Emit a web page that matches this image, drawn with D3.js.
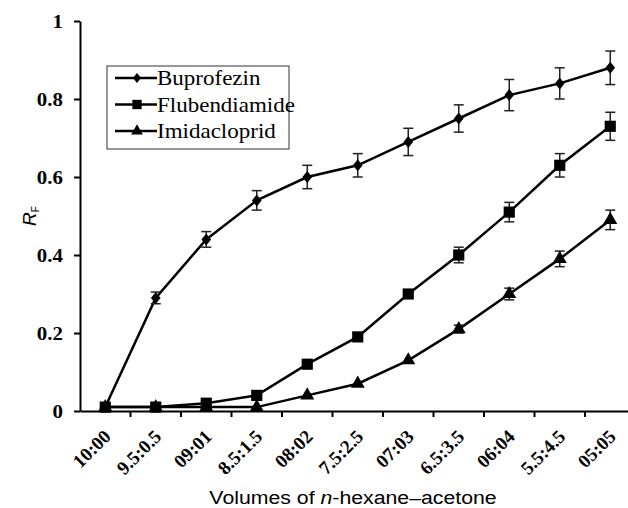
<!DOCTYPE html>
<html lang="en">
<head>
  <meta charset="UTF-8">
  <title>RF chart</title>
  <script src="https://cdn.jsdelivr.net/npm/d3@7"></script>
  <style>
    body { margin: 0; background: #fff; }
    svg { display: block; }
  </style>
</head>
<body>
<div id="chart"></div>
<script>
const categories = ["10:00", "9.5:0.5", "09:01", "8.5:1.5", "08:02", "7.5:2.5", "07:03", "6.5:3.5", "06:04", "5.5:4.5", "05:05"];
const buprofezin = [0.01, 0.29, 0.44, 0.54, 0.60, 0.63, 0.69, 0.75, 0.81, 0.84, 0.88];
const buprofezinErr = [0.005, 0.015, 0.02, 0.025, 0.03, 0.03, 0.035, 0.035, 0.04, 0.04, 0.043];
const flubendiamide = [0.01, 0.01, 0.02, 0.04, 0.12, 0.19, 0.30, 0.40, 0.51, 0.63, 0.73];
const flubendiamideErr = [0, 0, 0, 0, 0, 0, 0.005, 0.02, 0.025, 0.03, 0.036];
const imidacloprid = [0.01, 0.01, 0.01, 0.01, 0.04, 0.07, 0.13, 0.21, 0.30, 0.39, 0.49];
const imidaclopridErr = [0, 0, 0, 0, 0, 0, 0, 0.01, 0.015, 0.02, 0.025];
const yTicks = [0, 0.2, 0.4, 0.6, 0.8, 1];

// fat diamond marker (wider than d3.symbolDiamond)
const fatDiamond = {
  draw (ctx, size) {
    const h = Math.sqrt(size / 1.6), w = h * 0.8;
    ctx.moveTo(0, -h); ctx.lineTo(w, 0); ctx.lineTo(0, h); ctx.lineTo(-w, 0); ctx.closePath();
  }
};

const series = [
  { name: "Buprofezin", values: buprofezin, err: buprofezinErr, symbol: fatDiamond, size: 58 },
  { name: "Flubendiamide", values: flubendiamide, err: flubendiamideErr, symbol: d3.symbolSquare, size: 125 },
  { name: "Imidacloprid", values: imidacloprid, err: imidaclopridErr, symbol: d3.symbolTriangle, size: 85 }
];

const width = 628, height = 508;
const margin = { left: 80, top: 21, bottom: 97 };
const serif = "'Liberation Serif', 'Times New Roman', serif";
const sans = "'Liberation Sans', Arial, sans-serif";

const svg = d3.select("#chart").append("svg")
  .attr("width", width)
  .attr("height", height);

const x = d3.scaleBand()
  .domain(categories)
  .range([margin.left, margin.left + categories.length * 50.5]);

const y = d3.scaleLinear()
  .domain([0, 1])
  .range([height - margin.bottom, margin.top]);

// y axis
const yAxisG = svg.append("g")
  .attr("transform", `translate(${margin.left},0)`)
  .call(d3.axisLeft(y).tickValues(yTicks).tickSize(6).tickSizeOuter(0)
    .tickFormat(d => d === 0 ? "0" : d === 1 ? "1" : d3.format(".1f")(d)));
yAxisG.select(".domain").attr("stroke-width", 2);
yAxisG.selectAll(".tick line").attr("stroke-width", 2);
yAxisG.selectAll(".tick text")
  .attr("x", 0)
  .attr("transform", "translate(-17,0) scale(1.1,1)")
  .style("font-family", serif)
  .style("font-weight", "bold")
  .style("font-size", "19px")
  .attr("fill", "#000");

// x axis
const xAxisG = svg.append("g")
  .attr("transform", `translate(0,${y(0)})`)
  .call(d3.axisBottom(x).tickSize(0).tickFormat(""));
xAxisG.select(".domain").attr("stroke-width", 2);
xAxisG.selectAll(".tick").remove();

// boundary ticks between categories
const bounds = categories.map(c => x(c)).concat([x.range()[1]]);
xAxisG.selectAll("line.bt")
  .data(bounds.slice(1))
  .enter().append("line")
  .attr("class", "bt")
  .attr("x1", d => d).attr("x2", d => d)
  .attr("y1", 0).attr("y2", 6)
  .attr("stroke", "#000")
  .attr("stroke-width", 2);

const cx = d => x(d) + x.bandwidth() / 2;

svg.append("g").selectAll("text")
  .data(categories)
  .enter().append("text")
  .attr("transform", d => `translate(${cx(d) + 2},${y(0) + 22}) rotate(-45)`)
  .attr("text-anchor", "end")
  .attr("dy", "0.35em")
  .style("font-family", serif)
  .style("font-weight", "bold")
  .style("font-size", "19px")
  .text(d => d);

const line = d3.line()
  .x((d, i) => cx(categories[i]))
  .y(d => y(d));

series.forEach(s => {
  const g = svg.append("g");
  g.append("path")
    .datum(s.values)
    .attr("d", line)
    .attr("fill", "none")
    .attr("stroke", "#000")
    .attr("stroke-width", 2.5);

  const eb = g.selectAll("g.err")
    .data(s.values.map((v, i) => ({ v, e: s.err[i], c: categories[i] })).filter(d => d.e > 0))
    .enter().append("g")
    .attr("stroke", "#222")
    .attr("stroke-width", 1.5);
  eb.append("line")
    .attr("x1", d => cx(d.c)).attr("x2", d => cx(d.c))
    .attr("y1", d => y(d.v - d.e)).attr("y2", d => y(d.v + d.e));
  eb.append("line")
    .attr("x1", d => cx(d.c) - 5).attr("x2", d => cx(d.c) + 5)
    .attr("y1", d => y(d.v + d.e)).attr("y2", d => y(d.v + d.e));
  eb.append("line")
    .attr("x1", d => cx(d.c) - 5).attr("x2", d => cx(d.c) + 5)
    .attr("y1", d => y(d.v - d.e)).attr("y2", d => y(d.v - d.e));

  g.selectAll("path.mk")
    .data(s.values)
    .enter().append("path")
    .attr("class", "mk")
    .attr("d", d3.symbol().type(s.symbol).size(s.size))
    .attr("transform", (d, i) => `translate(${cx(categories[i])},${y(d)})`)
    .attr("fill", "#000");
});

// legend
const legend = svg.append("g").attr("transform", "translate(107,66)");
legend.append("rect")
  .attr("width", 182).attr("height", 83)
  .attr("fill", "#fff")
  .attr("stroke", "#333")
  .attr("stroke-width", 1);
series.forEach((s, i) => {
  const ly = 12 + i * 26.5;
  legend.append("line")
    .attr("x1", 8).attr("x2", 50)
    .attr("y1", ly).attr("y2", ly)
    .attr("stroke", "#000").attr("stroke-width", 2.5);
  legend.append("path")
    .attr("d", d3.symbol().type(s.symbol).size(s.size * 0.7))
    .attr("transform", `translate(30,${ly})`)
    .attr("fill", "#000");
  legend.append("text")
    .attr("transform", `translate(50,${ly}) scale(1.15,1)`)
    .attr("dy", "0.35em")
    .style("font-family", serif)
    .style("font-size", "20px")
    .text(s.name);
});

// y title
const yt = svg.append("text")
  .attr("transform", "translate(36,226) rotate(-90)")
  .style("font-family", sans)
  .style("font-size", "19px");
yt.append("tspan").style("font-style", "italic").text("R");
yt.append("tspan").attr("dy", 3).style("font-size", "10px").text("F");

// x title
const xt = svg.append("text")
  .attr("transform", "translate(353,504) scale(1.12,1)")
  .attr("text-anchor", "middle")
  .style("font-family", sans)
  .style("font-size", "19px");
xt.append("tspan").text("Volumes of ");
xt.append("tspan").style("font-style", "italic").text("n");
xt.append("tspan").text("-hexane\u2013acetone");
</script>
</body>
</html>
